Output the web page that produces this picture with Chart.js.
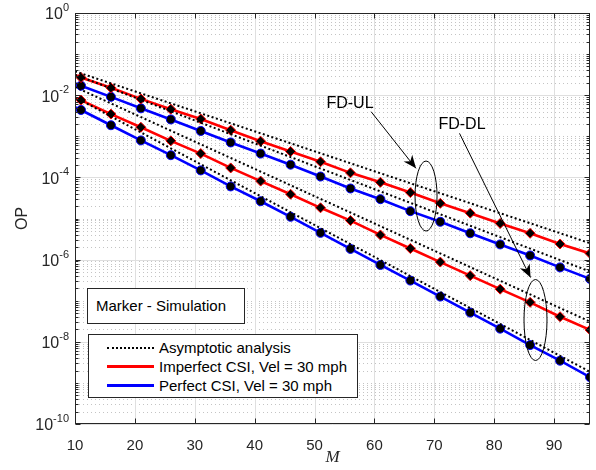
<!DOCTYPE html>
<html>
<head>
<meta charset="utf-8">
<script src="https://cdn.jsdelivr.net/npm/chart.js@4"></script>
<style>
  body { margin: 0; background: #fff; }
  #wrap { position: relative; width: 596px; height: 470px; font-family: "Liberation Sans", Arial, sans-serif; color: #262626; }
  .note { position: absolute; font-size: 16px; color: #000; white-space: nowrap; transform: translate(-50%, -50%); }
  #simBox { position: absolute; left: 87px; top: 288px; width: 158px; height: 36px; border: 1px solid #262626; background: #fff; font-size: 15px; box-sizing: border-box; }
  #simBox span { position: absolute; left: 8px; top: 8px; color: #000; }
  #legend { position: absolute; left: 88px; top: 334px; width: 270px; height: 64px; border: 1px solid #262626; background: #fff; box-sizing: border-box; font-size: 15px; }
  .row { position: absolute; left: 0; height: 18px; width: 100%; }
  .row i { position: absolute; left: 18px; width: 47px; top: 8px; }
  .row span { position: absolute; left: 70px; top: 0; color: #000; white-space: nowrap; }
</style>
</head>
<body>
<div id="wrap">
  <canvas id="opChart" width="596" height="470"></canvas>
  <div class="note" style="left:350px; top:103px;">FD-UL</div>
  <div class="note" style="left:462px; top:124px;">FD-DL</div>
  <div id="simBox"><span>Marker - Simulation</span></div>
  <div id="legend">
    <div class="row" style="top:4px;"><i style="border-top:2px dotted #000;"></i><span>Asymptotic analysis</span></div>
    <div class="row" style="top:23px;"><i style="border-top:3px solid #ff0000; top:7px;"></i><span>Imperfect CSI, Vel = 30 mph</span></div>
    <div class="row" style="top:42px;"><i style="border-top:3px solid #0000ff; top:7px;"></i><span>Perfect CSI, Vel = 30 mph</span></div>
  </div>
</div>
<script>
const M = [10, 11, 16, 21, 26, 31, 36, 41, 46, 51, 56, 61, 66, 71, 76, 81, 86, 91, 96];

const ulImperfect = [3.09e-2, 2.69e-2, 1.51e-2, 8.13e-3, 4.57e-3, 2.63e-3, 1.41e-3, 7.59e-4, 4.27e-4, 2.40e-4, 1.29e-4, 7.59e-5, 4.27e-5, 2.34e-5, 1.35e-5, 7.59e-6, 4.37e-6, 2.40e-6, 1.41e-6];
const ulPerfect   = [1.95e-2, 1.70e-2, 9.12e-3, 4.79e-3, 2.57e-3, 1.35e-3, 7.08e-4, 3.80e-4, 2.04e-4, 1.05e-4, 5.37e-5, 2.95e-5, 1.51e-5, 8.32e-6, 4.37e-6, 2.34e-6, 1.26e-6, 6.46e-7, 3.39e-7];
const dlImperfect = [8.71e-3, 7.59e-3, 3.47e-3, 1.66e-3, 7.76e-4, 3.80e-4, 1.70e-4, 8.13e-5, 3.89e-5, 1.82e-5, 8.91e-6, 3.98e-6, 1.86e-6, 8.71e-7, 4.07e-7, 1.91e-7, 9.12e-8, 4.07e-8, 1.95e-8];
const dlPerfect   = [5.13e-3, 4.37e-3, 1.86e-3, 7.94e-4, 3.47e-4, 1.48e-4, 6.03e-5, 2.63e-5, 1.10e-5, 4.47e-6, 1.82e-6, 7.41e-7, 3.09e-7, 1.26e-7, 5.13e-8, 2.09e-8, 8.32e-9, 3.47e-9, 1.38e-9];

// asymptotic curves are straight on this plot, two ends are enough
const asymM = [10, 96];
const asymUlImperfect = [3.80e-2, 2.51e-6];
const asymUlPerfect   = [3.16e-2, 5.13e-7];
const asymDlImperfect = [1.58e-2, 3.09e-8];
const asymDlPerfect   = [8.91e-3, 1.86e-9];

const xTicks = [10, 20, 30, 40, 50, 60, 70, 80, 90];
const yTickExp = [0, -2, -4, -6, -8, -10];

const font = '"Liberation Sans", Arial, sans-serif';
const axisColor = '#262626';

function pts(xs, ys) { return xs.map((v, i) => ({ x: v, y: ys[i] })); }

function sim(label, ys, color, style, r) {
  return {
    label: label,
    data: pts(M, ys),
    borderColor: color,
    borderWidth: 2.6,
    pointStyle: style,
    pointRadius: c => c.dataIndex === 0 ? 0 : r,
    pointBackgroundColor: '#000',
    pointBorderColor: color,
    pointBorderWidth: 1,
    order: 2
  };
}
function asym(ys) {
  return {
    label: 'Asymptotic analysis',
    data: pts(asymM, ys),
    borderColor: '#000',
    borderWidth: 2,
    borderDash: [2, 2.5],
    pointRadius: 0,
    order: 1
  };
}

function line(ctx, x1, y1, x2, y2) {
  ctx.beginPath(); ctx.moveTo(x1, y1); ctx.lineTo(x2, y2); ctx.stroke();
}

function arrow(ctx, x1, y1, x2, y2) {
  line(ctx, x1, y1, x2, y2);
  const a = Math.atan2(y2 - y1, x2 - x1);
  const len = 13, half = 5.5;
  const bx = x2 - len * Math.cos(a), by = y2 - len * Math.sin(a);
  const nx = x2 - len * 0.7 * Math.cos(a), ny = y2 - len * 0.7 * Math.sin(a);
  ctx.beginPath();
  ctx.moveTo(x2, y2);
  ctx.lineTo(bx - half * Math.sin(a), by + half * Math.cos(a));
  ctx.lineTo(nx, ny);
  ctx.lineTo(bx + half * Math.sin(a), by - half * Math.cos(a));
  ctx.closePath();
  ctx.fill();
}

const matlabAxes = {
  id: 'matlabAxes',
  beforeDatasetsDraw(chart) {
    const { ctx, chartArea: a, scales: { x, y } } = chart;
    ctx.save();
    ctx.lineWidth = 1;
    // minor grid, every 1..9 x 10^n that is not a labelled decade
    ctx.strokeStyle = '#c4c4c4';
    ctx.setLineDash([1, 3]);
    for (let e = -10; e < 0; e++) {
      for (let k = 1; k <= 9; k++) {
        if (k === 1 && e % 2 === 0) continue;
        const py = Math.round(y.getPixelForValue(k * Math.pow(10, e))) + 0.5;
        line(ctx, a.left, py, a.right, py);
      }
    }
    // major grid
    ctx.setLineDash([]);
    ctx.strokeStyle = '#dfdfdf';
    yTickExp.forEach(e => {
      const py = Math.round(y.getPixelForValue(Math.pow(10, e))) + 0.5;
      line(ctx, a.left, py, a.right, py);
    });
    xTicks.forEach(v => {
      const px = Math.round(x.getPixelForValue(v)) + 0.5;
      line(ctx, px, a.top, px, a.bottom);
    });
    ctx.restore();
  },
  afterDatasetsDraw(chart) {
    const { ctx, chartArea: a, scales: { x, y } } = chart;
    ctx.save();
    ctx.strokeStyle = axisColor;
    ctx.lineWidth = 1;
    const L = Math.round(a.left) + 0.5, R = Math.round(a.right) - 0.5;
    const T = Math.round(a.top) + 0.5, B = Math.round(a.bottom) - 0.5;
    ctx.strokeRect(L, T, R - L, B - T);
    // ticks, pointing inwards
    xTicks.forEach(v => {
      const px = Math.round(x.getPixelForValue(v)) + 0.5;
      line(ctx, px, B, px, B - 5);
      line(ctx, px, T, px, T + 5);
    });
    for (let e = -10; e < 0; e++) {
      for (let k = 1; k <= 9; k++) {
        const py = Math.round(y.getPixelForValue(k * Math.pow(10, e))) + 0.5;
        const len = (k === 1 && e % 2 === 0) ? 5 : 3;
        line(ctx, L, py, L + len, py);
        line(ctx, R, py, R - len, py);
      }
    }
    // y tick labels 10^n
    ctx.fillStyle = axisColor;
    ctx.textAlign = 'right';
    ctx.textBaseline = 'middle';
    yTickExp.forEach(e => {
      const py = y.getPixelForValue(Math.pow(10, e));
      const ex = e === 0 ? '0' : '-' + Math.abs(e);
      ctx.font = '11px ' + font;
      ctx.fillText(ex, a.left - 6, py - 5);
      const w = ctx.measureText(ex).width;
      ctx.font = '16px ' + font;
      ctx.fillText('10', a.left - 6 - w, py + 2);
    });
    // annotations: arrows and ellipses
    ctx.fillStyle = '#000';
    ctx.strokeStyle = '#000';
    arrow(ctx, x.getPixelForValue(59.45), y.getPixelForValue(3.97e-3), x.getPixelForValue(66.94), y.getPixelForValue(1.66e-4));
    arrow(ctx, x.getPixelForValue(74.21), y.getPixelForValue(1.18e-3), x.getPixelForValue(86.07), y.getPixelForValue(3.67e-7));
    ctx.beginPath();
    ctx.ellipse(x.getPixelForValue(68.62), y.getPixelForValue(3.52e-5), 11, 35, 0, 0, Math.PI * 2);
    ctx.stroke();
    ctx.beginPath();
    ctx.ellipse(x.getPixelForValue(86.9), y.getPixelForValue(3.39e-8), 11.5, 40.5, 0, 0, Math.PI * 2);
    ctx.stroke();
    ctx.restore();
  }
};

new Chart(document.getElementById('opChart').getContext('2d'), {
  type: 'line',
  data: {
    datasets: [
      asym(asymUlImperfect),
      asym(asymUlPerfect),
      asym(asymDlImperfect),
      asym(asymDlPerfect),
      sim('Imperfect CSI, Vel = 30 mph', ulImperfect, '#ff0000', 'rectRot', 5),
      sim('Perfect CSI, Vel = 30 mph', ulPerfect, '#0000ff', 'circle', 4.5),
      sim('Imperfect CSI, Vel = 30 mph', dlImperfect, '#ff0000', 'rectRot', 5),
      sim('Perfect CSI, Vel = 30 mph', dlPerfect, '#0000ff', 'circle', 4.5)
    ]
  },
  options: {
    responsive: false,
    animation: false,
    layout: { padding: { top: 13, right: 1, left: 0, bottom: 0 } },
    plugins: { legend: { display: false }, tooltip: { enabled: false } },
    scales: {
      x: {
        type: 'linear',
        min: 10,
        max: 96,
        grid: { display: false },
        border: { display: false },
        afterBuildTicks: s => { s.ticks = xTicks.map(v => ({ value: v })); },
        afterFit: s => { s.height = 46; },
        ticks: { padding: 5, color: axisColor, autoSkip: false, maxRotation: 0, font: { size: 15, family: font } },
        title: { display: true, text: 'M', color: axisColor, padding: { top: 0, bottom: 2 }, font: { size: 17, style: 'italic', family: '"Liberation Serif", "Times New Roman", serif' } }
      },
      y: {
        type: 'logarithmic',
        min: 1e-10,
        max: 1,
        grid: { display: false },
        border: { display: false },
        ticks: { display: false },
        afterFit: s => { s.width = 75; },
        title: { display: true, text: 'OP', color: axisColor, padding: { top: 13, bottom: 0 }, font: { size: 16, family: font } }
      }
    }
  },
  plugins: [matlabAxes]
});
</script>
</body>
</html>
